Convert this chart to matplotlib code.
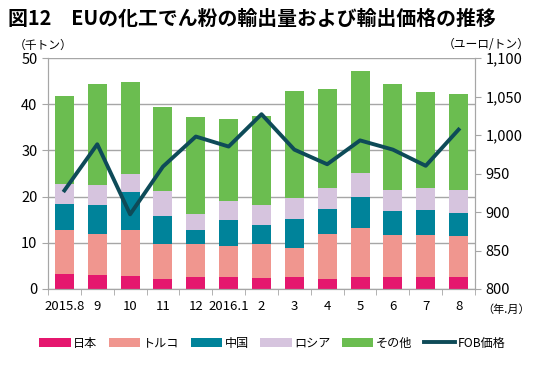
import matplotlib
matplotlib.use("Agg")
import matplotlib.pyplot as plt
from matplotlib.patches import Patch
from matplotlib.lines import Line2D
import numpy as np

plt.rcParams['font.family'] = ['Noto Sans CJK JP', 'DejaVu Sans']

categories = ["2015.8", "9", "10", "11", "12", "2016.1", "2", "3", "4", "5", "6", "7", "8"]
japan  = [3.3, 3.1, 2.9, 2.2, 2.7, 2.7, 2.4, 2.6, 2.2, 2.7, 2.6, 2.7, 2.7]
turkey = [9.5, 8.8, 9.9, 7.5, 7.0, 6.7, 7.3, 6.3, 9.7, 10.5, 9.1, 9.0, 8.8]
china  = [5.7, 6.2, 8.1, 6.2, 3.1, 5.6, 4.2, 6.2, 5.5, 6.8, 5.2, 5.3, 4.9]
russia = [4.3, 4.4, 4.1, 5.3, 3.5, 4.0, 4.3, 4.5, 4.5, 5.1, 4.6, 4.9, 5.0]
other  = [18.9, 21.9, 19.7, 18.1, 20.9, 17.9, 19.3, 23.2, 21.4, 22.0, 22.9, 20.7, 20.8]
fob    = [928, 988, 897, 959, 998, 985, 1027, 981, 962, 993, 981, 960, 1007]

series = [("日本", japan, "#E5176E"),
          ("トルコ", turkey, "#F0968F"),
          ("中国", china, "#00839A"),
          ("ロシア", russia, "#D6C4DE"),
          ("その他", other, "#6BBD50")]
line_color = "#0E4B58"
grid_color = "#A6A6A6"

fig = plt.figure(figsize=(5.34, 3.69), dpi=100)
ax = fig.add_axes([48/534, 1-289/369, 427/534, 231/369])
x = np.arange(len(categories))
bottom = np.zeros(len(categories))
for name, vals, col in series:
    ax.bar(x, vals, 0.58, bottom=bottom, color=col, zorder=2)
    bottom += np.array(vals)

ax.set_ylim(0, 50)
ax.set_yticks(range(0, 51, 10))
ax.set_xlim(-0.5, len(categories) - 0.5)
ax.yaxis.grid(True, color=grid_color, linewidth=1.0, zorder=0)
ax.set_axisbelow(True)
for s in ax.spines.values():
    s.set_color(grid_color)
ax.spines['top'].set_visible(False)
ax.set_xticks(x)
ax.set_xticklabels(categories, fontsize=9.5)
ax.tick_params(axis='x', length=0, pad=8)
ax.set_xticks(np.arange(-0.5, len(categories), 1), minor=True)
ax.tick_params(axis='x', which='minor', length=4, color=grid_color, direction='out')
ax.tick_params(axis='y', labelsize=10.5, length=4, color=grid_color)

ax2 = ax.twinx()
ax2.plot(x, fob, color=line_color, linewidth=2.8, zorder=5)
ax2.set_ylim(800, 1100)
ax2.set_yticks(range(800, 1101, 50))
ax2.set_yticklabels([f"{v:,}" for v in range(800, 1101, 50)])
ax2.tick_params(axis='y', labelsize=10.5, length=4, color=grid_color)
for s in ax2.spines.values():
    s.set_color(grid_color)
ax2.spines['top'].set_visible(False)

fig.text(8/534, 1-18/369, "図12　EUの化工でん粉の輸出量および輸出価格の推移",
         fontsize=14.3, fontweight='bold', va='center', ha='left')
fig.text(14/534, 1-45/369, "（千トン）", fontsize=8.5, va='center', ha='left')
fig.text(530/534, 1-45/369, "（ユーロ/トン）", fontsize=8.5, va='center', ha='right')
fig.text(530/534, 1-310/369, "（年.月）", fontsize=8, va='center', ha='right')

handles = [Patch(facecolor=c, edgecolor='none') for _, _, c in series]
handles.append(Line2D([0], [0], color=line_color, linewidth=2.8))
labels = [n for n, _, _ in series] + ["FOB価格"]
fig.legend(handles, labels, loc='center', bbox_to_anchor=(0.51, 1-343/369),
           ncol=6, frameon=False, fontsize=8.7, handlelength=2.6, handleheight=0.7,
           handletextpad=0.2, columnspacing=0.95)

fig.savefig("out.png", dpi=100)
